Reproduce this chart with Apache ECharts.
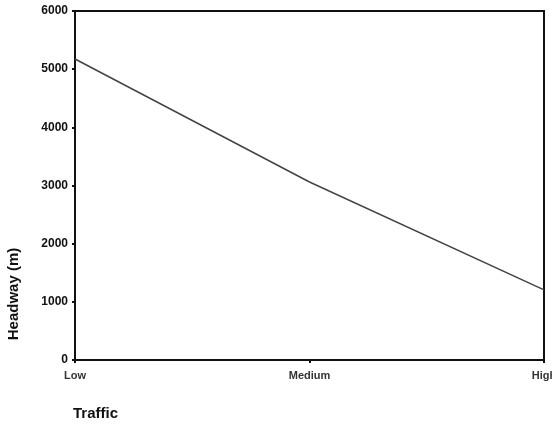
<!DOCTYPE html>
<html>
<head>
<meta charset="utf-8">
<script src="https://cdn.jsdelivr.net/npm/echarts@6/dist/echarts.min.js"></script>
<style>html,body{margin:0;padding:0;background:#fff}#c{width:552px;height:426px}</style>
</head>
<body>
<div id="c"></div>
<script>
var categories = ['Low', 'Medium', 'High'];
var headway = [5175, 3060, 1205];
var yTicks = [0, 1000, 2000, 3000, 4000, 5000, 6000];

var chart = echarts.init(document.getElementById('c'), null, {renderer: 'canvas'});
var font = '"Liberation Sans", Arial, sans-serif';
chart.setOption({
  animation: false,
  backgroundColor: '#fff',
  grid: {left: 75, top: 11, width: 469, height: 349, containLabel: false, outerBoundsMode: 'none',
         show: true, borderColor: '#111', borderWidth: 2, backgroundColor: 'transparent'},
  xAxis: {
    type: 'category', data: categories, boundaryGap: false,
    axisLine: {lineStyle: {color: '#111', width: 2}},
    axisTick: {show: true, length: 3, lineStyle: {color: '#111', width: 2}},
    axisLabel: {color: '#333', fontFamily: font, fontWeight: 'bold', fontSize: 11, margin: 10, hideOverlap: false},
    splitLine: {show: false}
  },
  yAxis: {
    type: 'value', min: yTicks[0], max: yTicks[yTicks.length - 1], interval: 1000,
    axisLine: {show: true, lineStyle: {color: '#111', width: 2}},
    axisTick: {show: true, length: 3, lineStyle: {color: '#111', width: 2}},
    axisLabel: {color: '#111', fontFamily: font, fontWeight: 'bold', fontSize: 12, margin: 7,
                formatter: function (v) { return String(v); }},
    splitLine: {show: false}
  },
  series: [{
    type: 'line', data: headway, symbol: 'none',
    lineStyle: {color: '#444', width: 1.5}
  }],
  graphic: [
    {type: 'text', left: 73, top: 406, style: {text: 'Traffic', font: 'bold 15px ' + font, fill: '#111'}},
    {type: 'text', x: 14, y: 294, rotation: Math.PI / 2, style: {text: 'Headway (m)', font: 'bold 15px ' + font, fill: '#111', align: 'center', verticalAlign: 'middle'}}
  ]
});
</script>
</body>
</html>
